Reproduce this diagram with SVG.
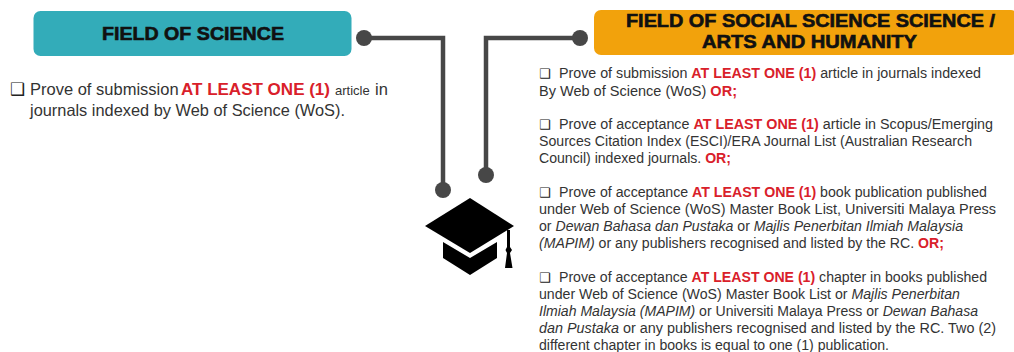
<svg xmlns="http://www.w3.org/2000/svg" width="1014" height="352" viewBox="0 0 1014 352">
<style>
text{font-family:"Liberation Sans",Arial,sans-serif;fill:#333}
.h{font-weight:700;font-size:18px;fill:#111;stroke:#111;stroke-width:.6;text-anchor:start}
.b{font-size:16.500px}
.t{font-size:14px}
.r{font-weight:700;fill:#d9202a}
.i{font-style:italic}
.c{font-family:"DejaVu Sans",sans-serif;fill:#222}
.w{fill:none;stroke:#474747;stroke-width:4.5}
.d{fill:#474747}
</style>
<g id="connectors">
<path class="w" d="M364 38H443V190"/>
<circle class="d" cx="364" cy="38" r="8"/>
<circle class="d" cx="443" cy="190" r="8"/>
<path class="w" d="M580 38H486V175"/>
<circle class="d" cx="580" cy="38" r="8"/>
<circle class="d" cx="486" cy="175" r="8"/>
</g>
<g id="node-science">
<rect x="33.500" y="11" width="318" height="45" rx="7" fill="#33acb9"/>
<text class="h" x="102" y="40" textLength="182" lengthAdjust="spacingAndGlyphs">FIELD OF SCIENCE</text>
<text class="c" x="10" y="95" font-size="17">❑</text>
<text class="b" x="30" y="95">Prove of submission</text>
<text class="b r" x="181" y="95" textLength="149" lengthAdjust="spacingAndGlyphs">AT LEAST ONE  (1)</text>
<text x="335" y="95" font-size="13">article</text>
<text class="b" x="375" y="95">in</text>
<text class="b" x="30" y="116" textLength="315" lengthAdjust="spacingAndGlyphs">journals indexed by Web of Science (WoS).</text>
</g>
<g id="node-social">
<rect x="594" y="10" width="424" height="45" rx="7" fill="#f2a20c"/>
<text class="h" x="626" y="27" textLength="369" lengthAdjust="spacingAndGlyphs">FIELD OF SOCIAL SCIENCE SCIENCE /</text>
<text class="h" x="702" y="48" textLength="215" lengthAdjust="spacingAndGlyphs">ARTS AND HUMANITY</text>
<text class="c" x="539" y="78" font-size="13">❑</text>
<text class="t" x="559" y="78" textLength="422" lengthAdjust="spacingAndGlyphs">Prove of submission <tspan class="r">AT LEAST ONE  (1)</tspan> article in journals indexed</text>
<text class="t" x="539" y="96" textLength="198" lengthAdjust="spacingAndGlyphs">By Web of Science (WoS) <tspan class="r">OR;</tspan></text>
<text class="c" x="539" y="129" font-size="13">❑</text>
<text class="t" x="559" y="129" textLength="434" lengthAdjust="spacingAndGlyphs">Prove of acceptance <tspan class="r">AT LEAST ONE  (1)</tspan> article in Scopus/Emerging</text>
<text class="t" x="539" y="146" textLength="433" lengthAdjust="spacingAndGlyphs">Sources Citation Index (ESCI)/ERA Journal List (Australian Research</text>
<text class="t" x="539" y="163" textLength="192" lengthAdjust="spacingAndGlyphs">Council) indexed journals. <tspan class="r">OR;</tspan></text>
<text class="c" x="539" y="197" font-size="13">❑</text>
<text class="t" x="559" y="197" textLength="428" lengthAdjust="spacingAndGlyphs">Prove of acceptance <tspan class="r">AT LEAST ONE (1)</tspan> book publication published</text>
<text class="t" x="539" y="214" textLength="457" lengthAdjust="spacingAndGlyphs">under Web of Science (WoS) Master Book List, Universiti Malaya Press</text>
<text class="t" x="539" y="231" textLength="424" lengthAdjust="spacingAndGlyphs">or <tspan class="i">Dewan Bahasa dan Pustaka</tspan> or <tspan class="i">Majlis Penerbitan Ilmiah Malaysia</tspan></text>
<text class="t" x="539" y="248" textLength="405" lengthAdjust="spacingAndGlyphs"><tspan class="i">(MAPIM)</tspan> or any publishers recognised and listed by the RC. <tspan class="r">OR;</tspan></text>
<text class="c" x="539" y="282" font-size="13">❑</text>
<text class="t" x="559" y="282" textLength="428" lengthAdjust="spacingAndGlyphs">Prove of acceptance <tspan class="r">AT LEAST ONE (1)</tspan> chapter in books published</text>
<text class="t" x="539" y="299" textLength="421" lengthAdjust="spacingAndGlyphs">under Web of Science (WoS) Master Book List or <tspan class="i">Majlis Penerbitan</tspan></text>
<text class="t" x="539" y="316" textLength="439" lengthAdjust="spacingAndGlyphs"><tspan class="i">Ilmiah Malaysia (MAPIM)</tspan> or Universiti Malaya Press or <tspan class="i">Dewan Bahasa</tspan></text>
<text class="t" x="539" y="333" textLength="457" lengthAdjust="spacingAndGlyphs"><tspan class="i">dan Pustaka</tspan> or any publishers recognised and listed by the RC. Two (2)</text>
<text class="t" x="539" y="350" textLength="350" lengthAdjust="spacingAndGlyphs">different chapter in books is equal to one (1) publication.</text>
</g>
<g id="node-cap" fill="#000">
<path d="M470 198L514 226L470 253L425 226Z"/>
<path d="M443 242L470 258L497 242V258L470 275L443 258Z"/>
<path d="M507 230H510V247L512 250L510 253L512.500 268H505L507 253L505.500 250L507 247Z"/>
</g>
</svg>
